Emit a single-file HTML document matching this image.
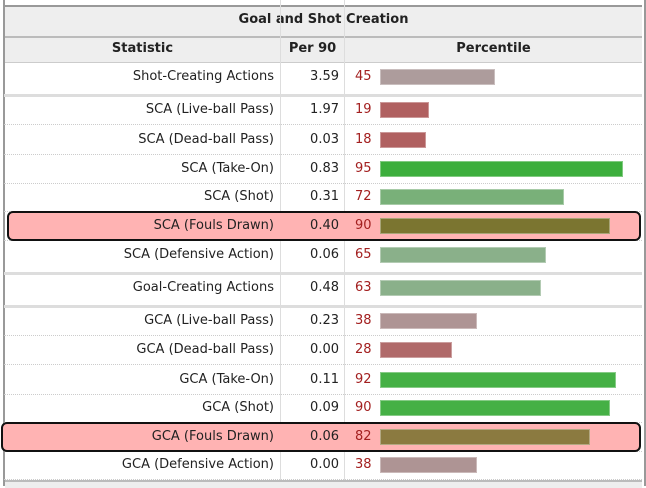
<!DOCTYPE html>
<html><head><meta charset="utf-8"><style>
body{margin:0;width:646px;height:486px;background:#fff;font-family:"DejaVu Sans","Liberation Sans",sans-serif;font-size:13px;color:#222;overflow:hidden;position:relative}
.abs{position:absolute}
.hl{position:absolute;background:#ffb3b3;border:2px solid #111;border-radius:6px;box-sizing:border-box}
.lab{position:absolute;text-align:right;width:270px;left:4px;line-height:29px}
.val{position:absolute;text-align:right;width:60px;left:279px;line-height:29px}
.pct{position:absolute;left:355px;line-height:29px;color:#a32020}
.sep{position:absolute;left:4px;width:638px;border-top:1px dotted #ccc}
.gsep{position:absolute;left:4px;width:638px;height:3px;background:#ddd}
</style></head><body>
<div class="abs" style="left:3px;top:0;width:639px;height:486px;border-left:2px solid #999;border-right:2px solid #999"></div>
<div class="abs" style="left:5px;top:5px;width:637px;height:2px;background:#999"></div>
<div class="abs" style="left:5px;top:7px;width:637px;height:29px;background:#eee;border-bottom:2px solid #bbb;text-align:center;line-height:26px;font-weight:bold">Goal and Shot Creation</div>
<div class="abs" style="left:5px;top:38px;width:637px;height:24px;background:#eee;border-bottom:1px solid #ccc;font-weight:bold;line-height:22px">
<span class="abs" style="left:0;width:275px;text-align:center">Statistic</span>
<span class="abs" style="left:275px;width:65px;text-align:center">Per 90</span>
<span class="abs" style="left:340px;width:297px;text-align:center">Percentile</span>
</div>
<div class="abs" style="left:280px;top:0;width:1px;height:486px;background:#ddd"></div>
<div class="abs" style="left:344px;top:0;width:1px;height:486px;background:#ddd"></div>
<div class="abs" style="left:5px;top:480px;width:637px;height:6px;background:#eee;border-top:2px solid #bbb"></div>
<div id="rows"></div>
<script>
const labels=["Shot-Creating Actions","SCA (Live-ball Pass)","SCA (Dead-ball Pass)","SCA (Take-On)","SCA (Shot)","SCA (Fouls Drawn)","SCA (Defensive Action)","Goal-Creating Actions","GCA (Live-ball Pass)","GCA (Dead-ball Pass)","GCA (Take-On)","GCA (Shot)","GCA (Fouls Drawn)","GCA (Defensive Action)"];
const per90=["3.59","1.97","0.03","0.83","0.31","0.40","0.06","0.48","0.23","0.00","0.11","0.09","0.06","0.00"];
const pcts=[45,19,18,95,72,90,65,63,38,28,92,90,82,38];
const highlighted=[5,12];
const centers=[77,110,140,169,197,226,255,288,321,350,380,408,437,465];
const colors=["#ad9c9c","#b06060","#b06060","#3cae3c","#79b079","#7b7530","#8ab08a","#8ab08a","#ae9494","#b06a6a","#45b045","#45b045","#8b7a40","#ae9494"];
const root=document.getElementById('rows');
const xBar=p=>p*2.56;
function add(cls,style,text){const d=document.createElement('div');d.className=cls;d.style.cssText=style;if(text!==undefined)d.textContent=text;root.appendChild(d);return d;}
[94,272,305].forEach(y=>{const g=add('gsep','top:'+y+'px');

});
labels.forEach((l,i)=>{
 const c=centers[i];
 if(![0,6,7].includes(i)){const s=add('sep','top:'+(c+14)+'px');
 
 }
 if(highlighted.includes(i)){const h=add('hl','top:'+(c-15)+'px;height:30px;left:'+(i==5?7:1)+'px;width:'+(i==5?634:640)+'px');
 
 }
 const a=add('lab','top:'+(c-15)+'px',l);
 
 
 const v=add('val','top:'+(c-15)+'px',per90[i]);
 
 
 const p=add('pct','top:'+(c-15)+'px',pcts[i]);
 
 
 const b=add('abs','left:380px;top:'+(c-8)+'px;height:16px;width:'+xBar(pcts[i])+'px;background:'+colors[i]+';box-shadow:inset 0 0 0 1px rgba(255,255,255,0.35)');
 
 
});
</script>
</body></html>
